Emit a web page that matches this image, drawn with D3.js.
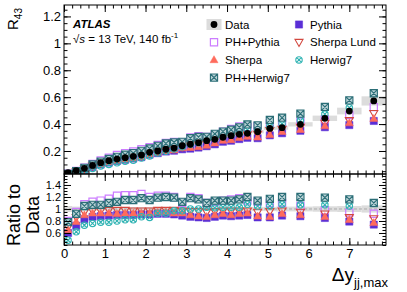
<!DOCTYPE html>
<html>
<head>
<meta charset="utf-8">
<script src="https://cdn.jsdelivr.net/npm/d3@7"></script>
<style>
    body { margin: 0; background: #fff; }
    svg { display: block; font-family: "Liberation Sans", Arial, sans-serif; }
</style>
</head>
<body>
<svg id="chart" width="407" height="292"></svg>
<script>
//Bornes des bins en Delta y
var binEdges = [0, 0.2, 0.4, 0.6, 0.8, 1.0, 1.2, 1.4, 1.6, 1.8, 2.0, 2.2, 2.4, 2.6, 2.8, 3.0,
    3.2, 3.4, 3.6, 3.8, 4.0, 4.2, 4.4, 4.6, 4.9, 5.2, 5.5, 6.1, 6.7, 7.3, 7.9];
//R43 mesuré et son incertitude relative
var dataR43 = [0.039, 0.054, 0.071, 0.093, 0.113, 0.128, 0.140, 0.150, 0.160, 0.170, 0.190, 0.200,
    0.213, 0.222, 0.239, 0.250, 0.262, 0.277, 0.287, 0.302, 0.314, 0.324, 0.331, 0.343, 0.368,
    0.373, 0.398, 0.443, 0.497, 0.572];
var dataErrRel = [0.05, 0.04, 0.035, 0.03, 0.03, 0.03, 0.03, 0.03, 0.03, 0.03, 0.03, 0.03, 0.03, 0.03,
    0.03, 0.03, 0.03, 0.03, 0.03, 0.03, 0.03, 0.03, 0.03, 0.035, 0.035, 0.04, 0.04, 0.045, 0.05, 0.06];
//Rapports MC / données
var ratioPythia = [0.60, 0.72, 0.83, 0.87, 0.88, 0.89, 0.90, 0.90, 0.90, 0.91, 0.91, 0.92, 0.92, 0.91,
    0.89, 0.87, 0.86, 0.85, 0.87, 0.89, 0.88, 0.89, 0.90, 0.86, 0.86, 0.89, 0.88, 0.85, 0.79, 0.74];
var ratioPHPythia = [0.80, 0.95, 1.08, 1.12, 1.14, 1.17, 1.22, 1.23, 1.23, 1.25, 1.20, 1.22, 1.22, 1.20,
    1.10, 1.20, 1.18, 1.10, 1.12, 1.14, 1.16, 1.18, 1.14, 1.12, 1.10, 1.10, 1.05, 0.98, 0.94, 0.92];
var ratioSherpaLund = [0.70, 0.86, 0.95, 0.97, 0.97, 0.98, 0.98, 0.98, 0.97, 0.97, 0.97, 0.98, 0.98, 0.98,
    0.97, 0.96, 0.96, 0.95, 0.96, 0.97, 0.97, 0.97, 0.97, 0.95, 0.96, 0.97, 0.95, 0.92, 0.86, 0.84];
var ratioSherpa = [0.65, 0.79, 0.90, 0.93, 0.93, 0.93, 0.92, 0.93, 0.93, 0.93, 0.93, 0.95, 0.95, 0.93,
    0.93, 0.90, 0.88, 0.87, 0.90, 0.92, 0.90, 0.92, 0.93, 0.88, 0.87, 0.92, 0.90, 0.87, 0.82, 0.77];
var ratioHerwig7 = [0.48, 0.62, 0.73, 0.76, 0.78, 0.78, 0.80, 0.82, 0.82, 0.87, 0.86, 0.93, 0.93, 0.97,
    0.97, 1.00, 1.00, 1.03, 1.02, 1.03, 1.03, 1.03, 1.08, 1.05, 1.05, 1.08, 1.07, 1.07, 1.05, 1.10];
var ratioPHHerwig7 = [0.78, 0.92, 1.05, 1.07, 1.07, 1.10, 1.12, 1.15, 1.15, 1.18, 1.15, 1.19, 1.20, 1.19,
    1.12, 1.18, 1.16, 1.10, 1.14, 1.14, 1.14, 1.16, 1.20, 1.14, 1.17, 1.20, 1.20, 1.19, 1.16, 1.10];
//Ticks
var xTicks = [0, 1, 2, 3, 4, 5, 6, 7];
var topYTicks = [0.2, 0.4, 0.6, 0.8, 1, 1.2];
var ratioYTicks = [0.6, 0.8, 1, 1.2, 1.4];

(function () {
    var svg = d3.select("#chart");
    var left = 64, right = 386;
    var topY0 = 5, topY1 = 174, ratY0 = 174, ratY1 = 245;

    var x = d3.scaleLinear().domain([0, 7.9]).range([left, right]);
    var yTop = d3.scaleLinear().domain([0.029, 1.285]).range([topY1, topY0]);
    var yRat = d3.scaleLinear().domain([0.4, 1.583]).range([ratY1, ratY0]);

    //Construction des bins
    var bins = dataR43.map(function (v, i) {
        return {lo: binEdges[i], hi: binEdges[i + 1], c: (binEdges[i] + binEdges[i + 1]) / 2, v: v, e: dataErrRel[i]};
    });

    //Formes des marqueurs
    var s = 3.6;
    var shapes = {
        square: "M" + -s + "," + -s + "h" + 2 * s + "v" + 2 * s + "h" + -2 * s + "z",
        squareX: "M" + -s + "," + -s + "h" + 2 * s + "v" + 2 * s + "h" + -2 * s + "z" +
            "M" + -s + "," + -s + "L" + s + "," + s + "M" + s + "," + -s + "L" + -s + "," + s,
        triUp: "M0,-4.2L4,2.8L-4,2.8Z",
        triDown: "M0,4.2L4,-2.8L-4,-2.8Z",
        circX: "M3.2,0A3.2,3.2 0 1,1 -3.2,0A3.2,3.2 0 1,1 3.2,0Z" +
            "M-2.2,-2.2L2.2,2.2M2.2,-2.2L-2.2,2.2"
    };

    var series = [
        {name: "PH+Pythia", r: ratioPHPythia, shape: "square", stroke: "#cc7dff", fill: "none", sw: 1.2},
        {name: "Pythia", r: ratioPythia, shape: "square", stroke: "#5a2ed6", fill: "#5a2ed6", sw: 0.5},
        {name: "Sherpa Lund", r: ratioSherpaLund, shape: "triDown", stroke: "#d2473e", fill: "none", sw: 1.1},
        {name: "Sherpa", r: ratioSherpa, shape: "triUp", stroke: "#ff6b5c", fill: "#ff6b5c", sw: 0.5},
        {name: "Herwig7", r: ratioHerwig7, shape: "circX", stroke: "#2fb3b3", fill: "none", sw: 1.1},
        {name: "PH+Herwig7", r: ratioPHHerwig7, shape: "squareX", stroke: "#2b6e77", fill: "#b9d2d6", sw: 1.1}
    ];

    //Clips pour chaque panneau
    var defs = svg.append("defs");
    defs.append("clipPath").attr("id", "clipTop").append("rect")
        .attr("x", left).attr("y", topY0).attr("width", right - left).attr("height", topY1 - topY0);
    defs.append("clipPath").attr("id", "clipRat").append("rect")
        .attr("x", left).attr("y", ratY0).attr("width", right - left).attr("height", ratY1 - ratY0);

    /*
     * Panneau du haut
     */
    var gTop = svg.append("g").attr("clip-path", "url(#clipTop)");
    gTop.selectAll(".errbox").data(bins).enter().append("rect")
        .attr("x", d => x(d.lo)).attr("width", d => x(d.hi) - x(d.lo))
        .attr("y", d => yTop(d.v * (1 + d.e))).attr("height", d => yTop(d.v * (1 - d.e)) - yTop(d.v * (1 + d.e)))
        .attr("fill", "#dcdcdc");
    series.forEach(function (se) {
        gTop.selectAll(null).data(bins).enter().append("path")
            .attr("d", shapes[se.shape])
            .attr("transform", (d, i) => "translate(" + x(d.c) + "," + yTop(d.v * se.r[i]) + ")")
            .attr("fill", se.fill).attr("stroke", se.stroke).attr("stroke-width", se.sw);
    });
    gTop.selectAll(".dot").data(bins).enter().append("circle")
        .attr("cx", d => x(d.c)).attr("cy", d => yTop(d.v)).attr("r", 3.4).attr("fill", "#000");

    /*
     * Panneau du rapport
     */
    var gRat = svg.append("g").attr("clip-path", "url(#clipRat)");
    gRat.selectAll(".errbox").data(bins).enter().append("rect")
        .attr("x", d => x(d.lo)).attr("width", d => x(d.hi) - x(d.lo))
        .attr("y", d => yRat(1 + d.e)).attr("height", d => yRat(1 - d.e) - yRat(1 + d.e))
        .attr("fill", "#dcdcdc");
    gRat.append("line")
        .attr("x1", left).attr("x2", right).attr("y1", yRat(1)).attr("y2", yRat(1))
        .attr("stroke", "#aaa").attr("stroke-dasharray", "3,2").attr("stroke-width", 1);
    series.forEach(function (se) {
        gRat.selectAll(null).data(bins).enter().append("path")
            .attr("d", shapes[se.shape])
            .attr("transform", (d, i) => "translate(" + x(d.c) + "," + yRat(se.r[i]) + ")")
            .attr("fill", se.fill).attr("stroke", se.stroke).attr("stroke-width", se.sw);
    });

    /*
     * Axes (ticks vers l'intérieur)
     */
    function minorTicks(domain, step) {
        var out = [];
        for (var k = Math.ceil(domain[0] / step - 1e-9); k * step <= domain[1] + 1e-9; k++) out.push(+(k * step).toFixed(4));
        return out;
    }
    function frame(y0, y1, yScale, yMajor, ySize, showX) {
        var h = y1 - y0;
        var tickStyle = function (g) {
            g.select(".domain").remove();
            g.selectAll("line").attr("stroke", "#000");
            g.selectAll("text").attr("fill", "#000");
        };
        //Majeurs / mineurs en x, bas et haut
        svg.append("g").attr("transform", "translate(0," + y1 + ")")
            .call(d3.axisBottom(x).tickValues(showX ? xTicks : []).tickSizeInner(-7).tickSizeOuter(0)
                .tickPadding(4).tickFormat(d3.format("d")))
            .call(tickStyle).attr("font-size", 13).attr("font-family", null);
        svg.append("g").attr("transform", "translate(0," + y1 + ")")
            .call(d3.axisBottom(x).tickValues(minorTicks(x.domain(), 0.2)).tickSize(-3.5).tickFormat(""))
            .call(tickStyle);
        svg.append("g").attr("transform", "translate(0," + y0 + ")")
            .call(d3.axisTop(x).tickValues(xTicks).tickSize(-7).tickFormat(""))
            .call(tickStyle);
        svg.append("g").attr("transform", "translate(0," + y0 + ")")
            .call(d3.axisTop(x).tickValues(minorTicks(x.domain(), 0.2)).tickSize(-3.5).tickFormat(""))
            .call(tickStyle);
        //Majeurs / mineurs en y, gauche et droite
        svg.append("g").attr("transform", "translate(" + left + ",0)")
            .call(d3.axisLeft(yScale).tickValues(yMajor).tickSizeInner(-7).tickSizeOuter(0).tickPadding(3)
                .tickFormat(d3.format("~g")))
            .call(tickStyle).attr("font-size", ySize).attr("font-family", null);
        svg.append("g").attr("transform", "translate(" + left + ",0)")
            .call(d3.axisLeft(yScale).tickValues(minorTicks(yScale.domain(), 0.05)).tickSize(-3.5).tickFormat(""))
            .call(tickStyle);
        svg.append("g").attr("transform", "translate(" + right + ",0)")
            .call(d3.axisRight(yScale).tickValues(yMajor).tickSize(-7).tickFormat(""))
            .call(tickStyle);
        svg.append("g").attr("transform", "translate(" + right + ",0)")
            .call(d3.axisRight(yScale).tickValues(minorTicks(yScale.domain(), 0.05)).tickSize(-3.5).tickFormat(""))
            .call(tickStyle);
        svg.append("rect").attr("x", left).attr("y", y0).attr("width", right - left).attr("height", h)
            .attr("fill", "none").attr("stroke", "#000").attr("stroke-width", 1);
    }
    frame(topY0, topY1, yTop, topYTicks, 13, false);
    frame(ratY0, ratY1, yRat, ratioYTicks, 11, true);

    /*
     * Titres des axes
     */
    var r43 = svg.append("text").attr("transform", "translate(18,30) rotate(-90)")
        .attr("font-size", 15).attr("text-anchor", "start");
    r43.append("tspan").text("R");
    r43.append("tspan").attr("font-size", 10).attr("dy", 4).text("43");

    svg.append("text").attr("transform", "translate(20,215) rotate(-90)")
        .attr("font-size", 18).attr("text-anchor", "middle").text("Ratio to");
    svg.append("text").attr("transform", "translate(39,215) rotate(-90)")
        .attr("font-size", 18).attr("text-anchor", "middle").text("Data");

    var xt = svg.append("text").attr("x", 388).attr("y", 281).attr("text-anchor", "end").attr("font-size", 19);
    xt.append("tspan").text("Δy");
    xt.append("tspan").attr("font-size", 13).attr("dy", 6).text("jj,max");

    /*
     * Étiquette ATLAS
     */
    var atl = svg.append("text").attr("x", 73).attr("y", 28).attr("font-size", 11.5);
    atl.append("tspan").attr("font-weight", "bold").attr("font-style", "italic").text("ATLAS");
    var en = svg.append("text").attr("x", 73).attr("y", 43).attr("font-size", 11.5);
    en.append("tspan").text("√");
    en.append("tspan").attr("font-style", "italic").text("s");
    en.append("tspan").text(" = 13 TeV, 140 fb");
    en.append("tspan").attr("font-size", 8).attr("dy", -5).text("-1");

    /*
     * Légende
     */
    var legendItems = [
        {name: "Data", col: 0, row: 0},
        {name: "PH+Pythia", col: 0, row: 1},
        {name: "Sherpa", col: 0, row: 2},
        {name: "PH+Herwig7", col: 0, row: 3},
        {name: "Pythia", col: 1, row: 0},
        {name: "Sherpa Lund", col: 1, row: 1},
        {name: "Herwig7", col: 1, row: 2}
    ];
    var lg = svg.append("g");
    legendItems.forEach(function (it) {
        var mx = it.col === 0 ? 214 : 299, my = 24.5 + it.row * 17.7;
        if (it.name === "Data") {
            lg.append("rect").attr("x", mx - 7.5).attr("y", my - 5.5).attr("width", 15).attr("height", 11).attr("fill", "#dcdcdc");
            lg.append("circle").attr("cx", mx).attr("cy", my).attr("r", 3.4).attr("fill", "#000");
        } else {
            var se = series.find(d => d.name === it.name);
            lg.append("path").attr("d", shapes[se.shape]).attr("transform", "translate(" + mx + "," + my + ")")
                .attr("fill", se.fill).attr("stroke", se.stroke).attr("stroke-width", se.sw);
        }
        lg.append("text").attr("x", mx + 11).attr("y", my + 4).attr("font-size", 11.5).text(it.name);
    });
})();
</script>
</body>
</html>
